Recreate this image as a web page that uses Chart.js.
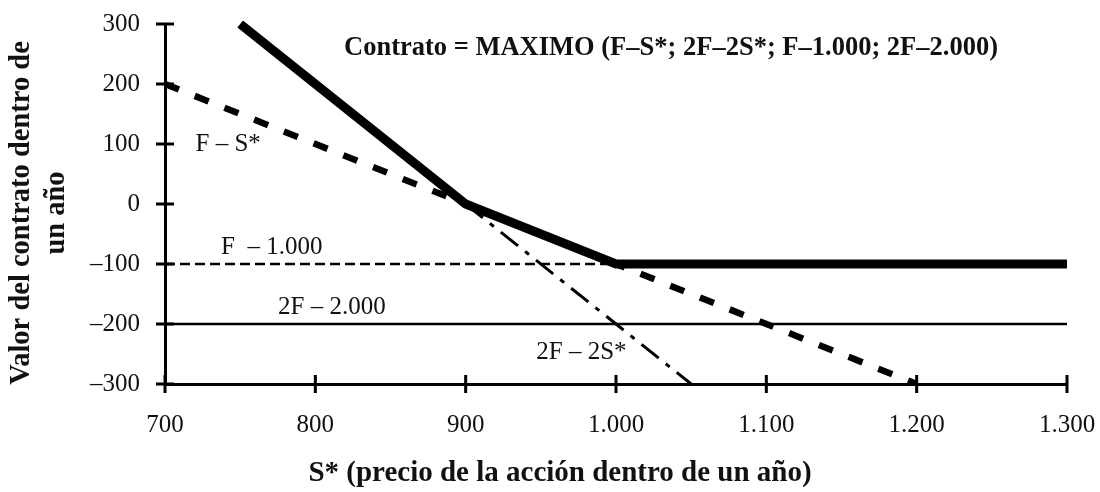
<!DOCTYPE html>
<html>
<head>
<meta charset="utf-8">
<script src="https://cdn.jsdelivr.net/npm/chart.js@4/dist/chart.umd.min.js"></script>
<style>
  html, body { margin: 0; padding: 0; background: #fff; }
  #wrap { width: 1100px; height: 492px; position: relative; }
</style>
</head>
<body>
<div id="wrap"><canvas id="canvas"></canvas></div>
<script>
const ctx = document.getElementById("canvas").getContext("2d");
const FONT = '"Liberation Serif", "Times New Roman", serif';

// Series (S*, value)
const fsX = [700, 1200];          // F - S*
const fsY = [200, -300];
const f2sX = [900, 1050];         // 2F - 2S*
const f2sY = [0, -300];
const f1000X = [700, 1300];       // F - 1.000
const f1000Y = [-100, -100];
const f2000X = [700, 1300];       // 2F - 2.000
const f2000Y = [-200, -200];
const maxX = [750, 900, 1000, 1300];  // contrato = maximo
const maxY = [300, 0, -100, -100];

// Axis ranges / ticks
const xTicks = [700, 800, 900, 1000, 1100, 1200, 1300];
const yTicks = [-300, -200, -100, 0, 100, 200, 300];

// Text labels inside the plot, placed in data units
const labelText = ["F – S*", "F  – 1.000", "2F – 2.000", "2F – 2S*"];
const labelX = [742, 771, 811, 977];
const labelY = [100, -72, -172, -248];
const titleText = "Contrato = MAXIMO (F–S*; 2F–2S*; F–1.000; 2F–2.000)";

function toPoints(xs, ys) {
    return xs.map((x, i) => ({ x: x, y: ys[i] }));
}

function fmtThousands(v) {
    let s = Math.abs(v) >= 1000
        ? Math.floor(Math.abs(v) / 1000) + "." + String(Math.abs(v) % 1000).padStart(3, "0")
        : String(Math.abs(v));
    return (v < 0 ? "–" : "") + s;
}

// draws tick marks crossing the axis lines, plus the text
const decorPlugin = {
    id: "decor",
    afterDraw(chart) {
        const c = chart.ctx;
        const xs = chart.scales.x, ys = chart.scales.y;
        const area = chart.chartArea;
        c.save();
        c.strokeStyle = "#000";
        c.lineWidth = 3;
        c.beginPath();
        xTicks.forEach(v => {
            const px = xs.getPixelForValue(v);
            c.moveTo(px, area.bottom - 9);
            c.lineTo(px, area.bottom + 9);
        });
        yTicks.forEach(v => {
            const py = ys.getPixelForValue(v);
            c.moveTo(area.left - 9, py);
            c.lineTo(area.left + 9, py);
        });
        c.stroke();

        c.fillStyle = "#111";
        c.textAlign = "center";
        c.textBaseline = "middle";
        c.font = "25px " + FONT;
        labelText.forEach((t, i) => {
            c.fillText(t, xs.getPixelForValue(labelX[i]), ys.getPixelForValue(labelY[i]));
        });

        c.font = "bold 26.5px " + FONT;
        c.fillText(titleText, 671, 48);

        c.font = "bold 29px " + FONT;
        c.fillText("S* (precio de la acción dentro de un año)", 560, 474);

        c.font = "bold 28.5px " + FONT;
        c.translate(0, 213);
        c.rotate(-Math.PI / 2);
        c.fillText("Valor del contrato dentro de", 0, 22);
        c.fillText("un año", 0, 57);
        c.restore();
    }
};

new Chart(ctx, {
    type: "line",
    data: {
        datasets: [
            {
                label: "Contrato",
                data: toPoints(maxX, maxY),
                borderColor: "#000",
                borderWidth: 9,
                pointRadius: 0,
                clip: { left: 0, top: 3, right: 5, bottom: 0 }
            },
            {
                label: "F - S*",
                data: toPoints(fsX, fsY),
                borderColor: "#000",
                borderWidth: 6.5,
                borderDash: [15, 17],
                pointRadius: 0
            },
            {
                label: "2F - 2S*",
                data: toPoints(f2sX, f2sY),
                borderColor: "#000",
                borderWidth: 3,
                borderDash: [22, 9, 5, 9],
                pointRadius: 0
            },
            {
                label: "F - 1.000",
                data: toPoints(f1000X, f1000Y),
                borderColor: "#000",
                borderWidth: 2.5,
                borderDash: [10, 5],
                pointRadius: 0
            },
            {
                label: "2F - 2.000",
                data: toPoints(f2000X, f2000Y),
                borderColor: "#000",
                borderWidth: 2.5,
                pointRadius: 0
            }
        ]
    },
    options: {
        responsive: true,
        maintainAspectRatio: false,
        animation: false,
        layout: { padding: { top: 24, right: 33, left: 0, bottom: 0 } },
        plugins: { legend: { display: false }, tooltip: { enabled: false } },
        scales: {
            x: {
                type: "linear",
                min: 700,
                max: 1300,
                afterFit: s => {
                    s.height = 108;
                    s.paddingLeft = 0;
                    s.paddingRight = 0;
                },
                border: { display: true, color: "#000", width: 3 },
                grid: { display: true, drawOnChartArea: false, drawTicks: false },
                ticks: {
                    stepSize: 100,
                    autoSkip: false,
                    maxRotation: 0,
                    padding: 26,
                    color: "#111",
                    font: { family: FONT, size: 25 },
                    callback: v => fmtThousands(v)
                }
            },
            y: {
                min: -300,
                max: 300,
                afterFit: s => {
                    s.width = 165;
                    s.paddingTop = 0;
                    s.paddingBottom = 0;
                },
                border: { display: true, color: "#000", width: 3 },
                grid: { display: true, drawOnChartArea: false, drawTicks: false },
                ticks: {
                    stepSize: 100,
                    padding: 25,
                    color: "#111",
                    font: { family: FONT, size: 25 },
                    callback: v => fmtThousands(v)
                }
            }
        }
    },
    plugins: [decorPlugin]
});
</script>
</body>
</html>
